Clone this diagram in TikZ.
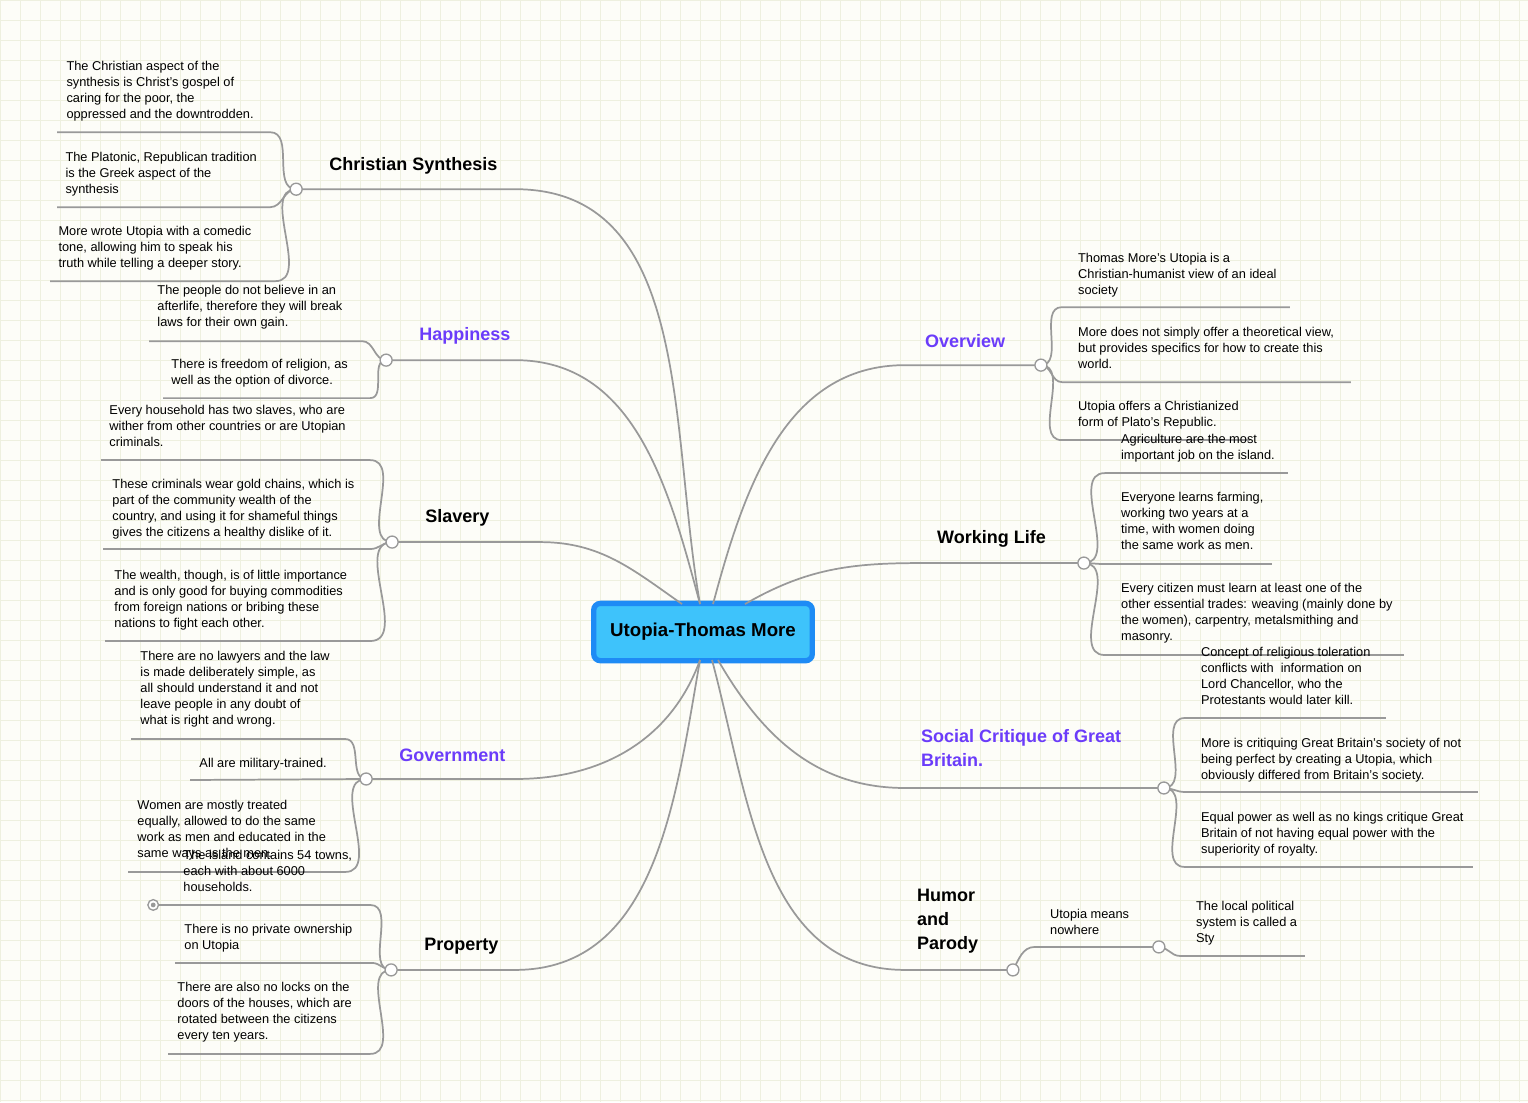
\documentclass[tikz,border=0pt]{standalone}
\usepackage{fontspec}
\setmainfont{Liberation Sans}
\definecolor{bgc}{HTML}{FDFDF8}
\definecolor{gridc}{HTML}{EEF0DF}
\definecolor{linec}{HTML}{999999}
\definecolor{purp}{HTML}{6B3CFA}
\definecolor{cfill}{HTML}{3EC3FB}
\definecolor{cborder}{HTML}{1E8BF5}
\newcommand\lfbox[4]{\node[leaf,anchor=north west] (#1) at (#2,#3) {#4};}
\begin{document}
\begin{tikzpicture}[x=0.75pt,y=-0.75pt,
  leaf/.style={inner sep=0pt,align=left,yshift=-3pt,font=\fontsize{9.6}{12}\selectfont},
  topic/.style={inner sep=0pt,align=left,yshift=-2pt,font=\fontsize{13.5}{18}\selectfont\bfseries},
  conn/.style={draw=linec,line width=1.3pt},
  knob/.style={circle,draw=linec,fill=white,line width=1pt,minimum size=9pt,inner sep=0pt}]
\fill[bgc] (0,0) rectangle (1528,1102);
\foreach \gx in {0,20,...,1520} \draw[gridc,line width=0.4pt] (\gx,0) -- (\gx,1102);
\foreach \gy in {0,20,...,1100} \draw[gridc,line width=0.4pt] (0,\gy) -- (1528,\gy);
\useasboundingbox (0,0) rectangle (1528,1102);
% center
\node[draw=cborder,line width=4pt,fill=cfill,rounded corners=5pt,minimum width=164pt,minimum height=43pt,font=\fontsize{14}{18}\selectfont\bfseries] (C) at (703,632) {Utopia-Thomas More};
\coordinate (Ct) at (700,604);
\coordinate (Cb) at (700,660);
% knob positions
\coordinate (kCS) at (296,189); \coordinate (kHa) at (386,360); \coordinate (kSl) at (392,542);
\coordinate (kGo) at (366,779); \coordinate (kPr) at (391,970);
\coordinate (kOv) at (1041,365); \coordinate (kWL) at (1084,563); \coordinate (kSC) at (1164,788);
\coordinate (kHP) at (1013,970); \coordinate (kUM) at (1159,947);
% main branches
\draw[conn] (kCS) -- (515,189) to[out=0,in=100] (Ct);
\draw[conn] (kHa) -- (515,360) to[out=0,in=105] (Ct);
\draw[conn] (kSl) -- (540,542) to[out=0,in=145] (682,604);
\draw[conn] (kGo) -- (515,779) to[out=0,in=-110] (Cb);
\draw[conn] (kPr) -- (515,970) to[out=0,in=-100] (Cb);
\draw[conn] (kOv) -- (905,365) to[out=180,in=75] (713,604);
\draw[conn] (kWL) -- (920,563) to[out=180,in=30] (745,604);
\draw[conn] (kSC) -- (905,788) to[out=180,in=-60] (718,660);
\draw[conn] (kHP) -- (905,970) to[out=180,in=-75] (712,660);
% topic labels
\node[topic,anchor=west] (tCS) at (329,163) {Christian Synthesis};
\node[topic,anchor=west,text=purp] (tHa) at (419,333) {Happiness};
\node[topic,anchor=west] (tSl) at (425,515) {Slavery};
\node[topic,anchor=west,text=purp] (tGo) at (399,753) {Government};
\node[topic,anchor=west] (tPr) at (424,944) {Property};
\node[topic,anchor=west,text=purp] (tOv) at (925,338) {Overview};
\node[topic,anchor=west] (tWL) at (937,536) {Working Life};
\node[topic,anchor=north west,text=purp] (tSC) at (921,727) {Social Critique of Great\\Britain.};
\node[topic,anchor=north west] (tHP) at (917,886) {Humor\\and\\Parody};
% left leaves
\foreach \xa/\xb/\y/\k in {57/270/132/kCS,57/270/207/kCS,50/275/281/kCS,
  149/362/341/kHa,163/370/398/kHa,
  101/370/460/kSl,103/370/549/kSl,105/370/641/kSl,
  131/345/739/kGo,128/345/872/kGo,
  153/370/905/kPr,175/372/963/kPr,168/370/1054/kPr}
  \draw[conn] (\xa,\y) -- (\xb,\y) to[out=0,in=180] (\k);
\draw[conn] (190,780) -- (kGo);
% right leaves
\foreach \xa/\xb/\y/\k in {1062/1290/307/kOv,1062/1351/382/kOv,1062/1250/440/kOv,
  1105/1288/473/kWL,1105/1272/564/kWL,1105/1404/655/kWL,
  1185/1386/718/kSC,1185/1478/792/kSC,1185/1473/867/kSC,
  1180/1305/956/kUM}
  \draw[conn] (\k) to[out=0,in=180] (\xa,\y) -- (\xb,\y);
\draw[conn] (kHP) to[out=60,in=180] (1035,947) -- (kUM);
% knobs
\foreach \k in {kCS,kHa,kSl,kGo,kPr,kOv,kWL,kSC,kHP,kUM}
  \node[knob] at (\k) {};
\node[knob,minimum size=8pt] (col) at (153,905) {};
\fill[linec] (col) circle (1.8pt);
% leaf texts
\lfbox{l1}{66}{57}{The Christian aspect of the\\synthesis is Christ's gospel of\\caring for the poor, the\\oppressed and the downtrodden.}
\lfbox{l2}{65}{148}{The Platonic, Republican tradition\\is the Greek aspect of the\\synthesis}
\lfbox{l3}{58}{222}{More wrote Utopia with a comedic\\tone, allowing him to speak his\\truth while telling a deeper story.}
\lfbox{l4}{157}{281}{The people do not believe in an\\afterlife, therefore they will break\\laws for their own gain.}
\lfbox{l5}{171}{355}{There is freedom of religion, as\\well as the option of divorce.}
\lfbox{l6}{109}{401}{Every household has two slaves, who are\\wither from other countries or are Utopian\\criminals.}
\lfbox{l7}{112}{475}{These criminals wear gold chains, which is\\part of the community wealth of the\\country, and using it for shameful things\\gives the citizens a healthy dislike of it.}
\lfbox{l8}{114}{566}{The wealth, though, is of little importance\\and is only good for buying commodities\\from foreign nations or bribing these\\nations to fight each other.}
\lfbox{l9}{140}{647}{There are no lawyers and the law\\is made deliberately simple, as\\all should understand it and not\\leave people in any doubt of\\what is right and wrong.}
\lfbox{l10}{199}{754}{All are military-trained.}
\lfbox{l11}{137}{796}{Women are mostly treated\\equally, allowed to do the same\\work as men and educated in the\\same ways as the men.}
\lfbox{l12}{183}{846}{The island contains 54 towns,\\each with about 6000\\households.}
\lfbox{l13}{184}{920}{There is no private ownership\\on Utopia}
\lfbox{l14}{177}{978}{There are also no locks on the\\doors of the houses, which are\\rotated between the citizens\\every ten years.}
\lfbox{r1}{1078}{249}{Thomas More's Utopia is a\\Christian-humanist view of an ideal\\society}
\lfbox{r2}{1078}{323}{More does not simply offer a theoretical view,\\but provides specifics for how to create this\\world.}
\lfbox{r3}{1078}{397}{Utopia offers a Christianized\\form of Plato's Republic.}
\lfbox{r4}{1121}{430}{Agriculture are the most\\important job on the island.}
\lfbox{r5}{1121}{488}{Everyone learns farming,\\working two years at a\\time, with women doing\\the same work as men.}
\lfbox{r6}{1121}{579}{Every citizen must learn at least one of the\\other essential trades: weaving (mainly done by\\the women), carpentry, metalsmithing and\\masonry.}
\lfbox{r7}{1201}{643}{Concept of religious toleration\\conflicts with\ \ information on\\Lord Chancellor, who the\\Protestants would later kill.}
\lfbox{r8}{1201}{734}{More is critiquing Great Britain's society of not\\being perfect by creating a Utopia, which\\obviously differed from Britain's society.}
\lfbox{r9}{1201}{808}{Equal power as well as no kings critique Great\\Britain of not having equal power with the\\superiority of royalty.}
\lfbox{r10}{1050}{905}{Utopia means\\nowhere}
\lfbox{r11}{1196}{897}{The local political\\system is called a\\Sty}
\end{tikzpicture}
\end{document}
